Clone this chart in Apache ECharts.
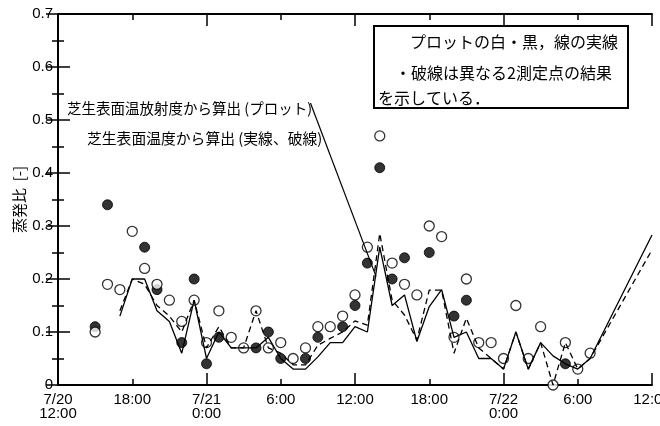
<!DOCTYPE html>
<html><head><meta charset="utf-8">
<script src="https://cdn.jsdelivr.net/npm/echarts@6/dist/echarts.min.js"></script>
<style>html,body{margin:0;padding:0;background:#fff}#c{width:660px;height:426px}</style>
</head><body><div id="c"></div>
<script>
// hours counted from 7/20 12:00
const xTickLabels = ["7/20\n12:00","18:00","7/21\n0:00","6:00","12:00","18:00","7/22\n0:00","6:00","12:00"];
const yTickLabels = ["0","0.1","0.2","0.3","0.4","0.5","0.6","0.7"];

const openHours  = [3,4,5,6,7,8,9,10,11,12,13,14,15,16,17,18,19,20,21,22,23,24,25,26,27,28,29,30,31,32,33,34,35,36,37,38,39,40,41,42,43];
const openValues = [0.10,0.19,0.18,0.29,0.22,0.19,0.16,0.12,0.16,0.08,0.14,0.09,0.07,0.14,0.07,0.08,0.05,0.07,0.11,0.11,0.13,0.17,0.26,0.47,0.23,0.19,0.17,0.30,0.28,0.09,0.20,0.08,0.08,0.05,0.15,0.05,0.11,0.00,0.08,0.03,0.06];

const filledHours  = [3,4,7,8,10,11,12,13,16,17,18,20,21,23,24,25,26,27,28,30,32,33,41];
const filledValues = [0.11,0.34,0.26,0.18,0.08,0.20,0.04,0.09,0.07,0.10,0.05,0.05,0.09,0.11,0.15,0.23,0.41,0.20,0.24,0.25,0.13,0.16,0.04];

const solidHours  = [5,6,7,8,9,10,11,12,13,14,15,16,17,18,19,20,21,22,23,24,25,26,27,28,29,30,31,32,33,34,35,36,37,38,39,40,41,42,43,48];
const solidValues = [0.13,0.20,0.20,0.14,0.12,0.06,0.16,0.05,0.10,0.07,0.07,0.07,0.09,0.05,0.03,0.03,0.053,0.08,0.08,0.11,0.10,0.26,0.15,0.17,0.082,0.148,0.18,0.09,0.10,0.05,0.05,0.03,0.10,0.03,0.08,0.055,0.04,0.03,0.05,0.283];

const dashedHours  = [5,6,7,8,9,10,11,12,13,14,15,16,17,18,19,20,21,22,23,24,25,26,27,28,29,30,31,32,33,34,35,36,37,38,39,40,41,42,43,48];
const dashedValues = [0.14,0.20,0.19,0.15,0.13,0.10,0.16,0.07,0.11,0.07,0.07,0.14,0.07,0.06,0.038,0.038,0.075,0.088,0.10,0.121,0.113,0.286,0.16,0.132,0.085,0.179,0.179,0.06,0.126,0.07,0.05,0.03,0.10,0.03,0.08,0.00,0.08,0.03,0.05,0.255];

const leaderFrom = [20.4, 0.532];
const leaderTo   = [25.7, 0.205];

const pairs = (xs, ys) => xs.map((x, i) => [x, ys[i]]);
const latin = '"Liberation Sans", Arial, sans-serif';
const cjk = '"Noto Sans CJK JP", sans-serif';

const chart = echarts.init(document.getElementById('c'), null, {renderer: 'canvas'});

const tickStyle = {color: '#000', width: 1.5};
const baseX = {type: 'value', min: 0, max: 48, gridIndex: 0, splitLine: {show: false}};
const option = {
  animation: false,
  backgroundColor: '#fff',
  grid: {left: 58, right: 8, top: 14, bottom: 41, containLabel: false, outerBoundsMode: 'none'},
  xAxis: [
    Object.assign({}, baseX, {
      position: 'bottom', interval: 6,
      axisLine: {show: true, lineStyle: {color: '#000', width: 2}},
      axisTick: {show: true, inside: true, length: 6, lineStyle: tickStyle},
      axisLabel: {show: true, color: '#000', fontFamily: latin, fontSize: 15, lineHeight: 14, margin: 8,
        hideOverlap: false, showMinLabel: true, showMaxLabel: true,
        formatter: v => xTickLabels[Math.round(v / 6)]}
    }),
    Object.assign({}, baseX, {
      position: 'bottom', interval: 12, offset: 0,
      axisLine: {show: false},
      axisTick: {show: true, inside: true, length: 12, lineStyle: tickStyle},
      axisLabel: {show: false}
    }),
    Object.assign({}, baseX, {
      position: 'top', interval: 6,
      axisLine: {show: true, lineStyle: {color: '#000', width: 2}},
      axisTick: {show: true, inside: true, length: 6, lineStyle: tickStyle},
      axisLabel: {show: false}
    }),
    Object.assign({}, baseX, {
      position: 'top', interval: 12, offset: 0,
      axisLine: {show: false},
      axisTick: {show: true, inside: true, length: 12, lineStyle: tickStyle},
      axisLabel: {show: false}
    })
  ],
  yAxis: [
    {
      type: 'value', min: 0, max: 0.7, interval: 0.1, position: 'left',
      name: '蒸発比  [-]', nameLocation: 'middle', nameGap: 31, nameRotate: 90, nameMoveOverlap: false,
      nameTextStyle: {fontFamily: cjk, fontSize: 15, color: '#000'},
      splitLine: {show: false},
      axisLine: {show: true, lineStyle: {color: '#000', width: 2}},
      axisTick: {show: true, inside: true, length: 12, lineStyle: tickStyle},
      minorTick: {show: true, splitNumber: 2, length: 6, lineStyle: tickStyle},
      axisLabel: {show: true, color: '#000', fontFamily: latin, fontSize: 15, margin: 5,
        formatter: v => yTickLabels[Math.round(v * 10)]}
    },
    {
      type: 'value', min: 0, max: 0.7, interval: 0.1, position: 'right',
      splitLine: {show: false},
      axisLine: {show: true, lineStyle: {color: '#000', width: 2}},
      axisTick: {show: true, inside: true, length: 12, lineStyle: tickStyle},
      minorTick: {show: true, splitNumber: 2, length: 6, lineStyle: tickStyle},
      axisLabel: {show: false}
    }
  ],
  series: [
    {
      name: 'solid', type: 'line', xAxisIndex: 0, yAxisIndex: 0,
      data: pairs(solidHours, solidValues), showSymbol: false, symbol: 'none',
      lineStyle: {color: '#000', width: 1.3, type: 'solid'},
      markLine: {
        silent: true, symbol: ['none', 'none'], label: {show: false},
        lineStyle: {color: '#000', width: 1.2, type: 'solid'},
        data: [[{coord: leaderFrom}, {coord: leaderTo}]]
      }
    },
    {
      name: 'dashed', type: 'line', xAxisIndex: 0, yAxisIndex: 0,
      data: pairs(dashedHours, dashedValues), showSymbol: false, symbol: 'none',
      lineStyle: {color: '#000', width: 1.3, type: [6, 4]}
    },
    {
      name: 'filled', type: 'scatter', xAxisIndex: 0, yAxisIndex: 0,
      data: pairs(filledHours, filledValues), symbol: 'circle', symbolSize: 10,
      itemStyle: {color: '#000', borderColor: '#000', borderWidth: 1}
    },
    {
      name: 'open', type: 'scatter', xAxisIndex: 0, yAxisIndex: 0,
      data: pairs(openHours, openValues), symbol: 'circle', symbolSize: 10,
      itemStyle: {color: '#fff', borderColor: '#000', borderWidth: 1.3}
    }
  ],
  graphic: [
    {type: 'text', x: 67, y: 108, style: {text: '芝生表面温放射度から算出 (プロット)', font: '14.5px ' + cjk, fill: '#000', verticalAlign: 'middle'}},
    {type: 'text', x: 87, y: 138, style: {text: '芝生表面温度から算出 (実線、破線)', font: '14.8px ' + cjk, fill: '#000', verticalAlign: 'middle'}},
    {type: 'rect', shape: {x: 374, y: 26, width: 254, height: 82}, style: {fill: '#fff', stroke: '#000', lineWidth: 2}},
    {type: 'text', x: 410, y: 42, style: {text: 'プロットの白・黒，線の実線', font: '16px ' + cjk, fill: '#000', verticalAlign: 'middle'}},
    {type: 'text', x: 395, y: 73, style: {text: '・破線は異なる2測定点の結果', font: '16px ' + cjk, fill: '#000', verticalAlign: 'middle'}},
    {type: 'text', x: 378, y: 98, style: {text: 'を示している．', font: '16px ' + cjk, fill: '#000', verticalAlign: 'middle'}}
  ]
};
chart.setOption(option);
</script>
</body></html>
